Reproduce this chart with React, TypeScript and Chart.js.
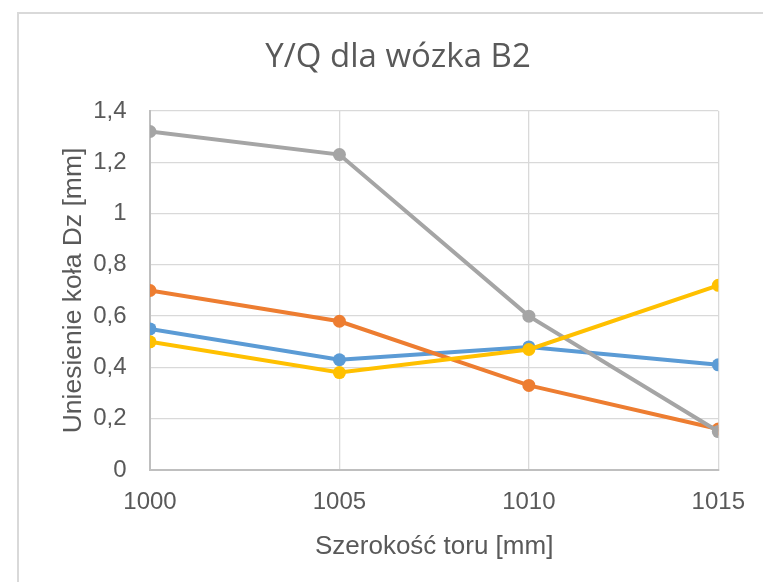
import React, { useEffect, useRef } from "react";
import { Chart, registerables } from "chart.js";

Chart.register(...registerables);

const chartTitle = "Y/Q dla wózka B2";
const xAxisTitle = "Szerokość toru [mm]";
const yAxisTitle = "Uniesienie koła Dz [mm]";

const xValues = [1000, 1005, 1010, 1015];
const xTickLabels = ["1000", "1005", "1010", "1015"];
const yTickValues = [0, 0.2, 0.4, 0.6, 0.8, 1, 1.2, 1.4];
const yTickLabels = ["0", "0,2", "0,4", "0,6", "0,8", "1", "1,2", "1,4"];

const seriesBlue = [0.55, 0.43, 0.48, 0.41];
const seriesOrange = [0.7, 0.58, 0.33, 0.16];
const seriesGray = [1.32, 1.23, 0.6, 0.15];
const seriesYellow = [0.5, 0.38, 0.47, 0.72];

const toPoints = (ys: number[]) => ys.map((y, i) => ({ x: xValues[i], y }));

export default function App() {
  const ref = useRef<HTMLCanvasElement | null>(null);

  useEffect(() => {
    if (!ref.current) return;
    const mk = (label: string, data: number[], color: string) => ({
      label,
      data: toPoints(data),
      borderColor: color,
      backgroundColor: color,
      pointBackgroundColor: color,
      pointBorderColor: color,
      pointBorderWidth: 0,
      pointRadius: 6.5,
      borderWidth: 4,
      tension: 0,
      showLine: true,
    });
    const chart = new Chart(ref.current, {
      type: "scatter",
      data: {
        datasets: [
          mk("Seria 4", seriesYellow, "#FFC000"),
          mk("Seria 3", seriesGray, "#A5A5A5"),
          mk("Seria 2", seriesOrange, "#ED7D31"),
          mk("Seria 1", seriesBlue, "#5B9BD5"),
        ],
      },
      options: {
        responsive: false,
        animation: false,
        layout: { padding: { top: 111, left: 50, right: 42.3, bottom: 19.4 } },
        plugins: {
          legend: { display: false },
          tooltip: { enabled: false },
          title: { display: false },
        },
        scales: {
          x: {
            type: "linear",
            min: 1000,
            max: 1015,
            afterBuildTicks: (scale: any) => {
              scale.ticks = xValues.map((v) => ({ value: v }));
            },
            afterFit: (scale: any) => {
              scale.height = 92.6;
            },
            ticks: {
              padding: 18,
              color: "#595959",
              font: { family: "'Liberation Sans', Arial, sans-serif", size: 24, lineHeight: 1.2 },
              callback: (v: any) => {
                const i = xValues.indexOf(Number(v));
                return i >= 0 ? xTickLabels[i] : "";
              },
            },
            grid: { color: "#D9D9D9", lineWidth: 1.3, drawTicks: false },
            border: { color: "#BFBFBF", width: 2 },
            title: {
              display: true,
              text: xAxisTitle,
              color: "#595959",
              font: { family: "'Liberation Sans', Arial, sans-serif", size: 26, lineHeight: 1.2 },
              padding: { top: 0, bottom: 0 },
            },
          },
          y: {
            type: "linear",
            min: 0,
            max: 1.4,
            afterBuildTicks: (scale: any) => {
              scale.ticks = yTickValues.map((v) => ({ value: v }));
            },
            afterFit: (scale: any) => {
              scale.width = 100;
            },
            ticks: {
              padding: 23.5,
              color: "#595959",
              font: { family: "'Liberation Sans', Arial, sans-serif", size: 24, lineHeight: 1.2 },
              callback: (v: any) => {
                const i = yTickValues.findIndex((t) => Math.abs(t - Number(v)) < 1e-6);
                return i >= 0 ? yTickLabels[i] : "";
              },
            },
            grid: { color: "#D9D9D9", lineWidth: 1.3, drawTicks: false },
            border: { color: "#BFBFBF", width: 2 },
            title: {
              display: true,
              text: yAxisTitle,
              color: "#595959",
              font: { family: "'Liberation Sans', Arial, sans-serif", size: 26.5, lineHeight: 1.2 },
              padding: { top: 7.5, bottom: 0 },
            },
          },
        },
      },
    });
    return () => chart.destroy();
  }, []);

  return (
    <div
      style={{
        position: "fixed",
        left: 0,
        top: 0,
        width: 763,
        height: 582,
        overflow: "hidden",
        background: "#FFFFFF",
      }}
    >
      <div
        style={{
          position: "absolute",
          left: 17,
          top: 12,
          width: 900,
          height: 900,
          border: "2px solid #D9D9D9",
        }}
      />
      <canvas
        ref={ref}
        width={763}
        height={582}
        style={{ position: "absolute", left: 0, top: 0, width: 763, height: 582 }}
      />
      <div
        style={{
          position: "absolute",
          left: 0,
          top: 35,
          width: 796,
          textAlign: "center",
          fontFamily: "'Open Sans', sans-serif",
          fontSize: 33,
          lineHeight: "40px",
          fontWeight: 400,
          color: "#595959",
          whiteSpace: "nowrap",
        }}
      >
        {chartTitle}
      </div>
    </div>
  );
}
